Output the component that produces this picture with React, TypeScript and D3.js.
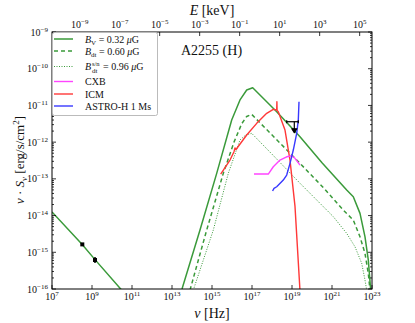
import React from "react";
import * as d3 from "d3";

const H_KEV = 4.135667e-18; // keV per Hz

// all values are log10(nu / Hz) and log10(nu S_nu / erg s^-1 cm^-2)
const radioNu = [7, 8.5, 9.15, 10.5];
const radioFlux = [-13.9, -14.78, -15.2, -16.04];

const bvNu = [13.5, 14.4, 15.235, 15.985, 16.4, 16.735, 17.035, 18.235, 19.4, 20.5, 21.735, 22.065, 22.4, 22.65, 22.815, 22.935];
const bvFlux = [-16.0, -14.395, -12.85, -11.398, -10.85, -10.58, -10.518, -11.172, -11.853, -12.56, -13.305, -13.488, -13.94, -14.578, -15.21, -16.03];

const bdtNu = [13.9, 14.735, 15.565, 16.1, 16.485, 16.735, 16.985, 18.2, 19.4, 20.5, 21.565, 22.065, 22.4, 22.65, 22.815, 22.9];
const bdtFlux = [-16.03, -14.395, -12.85, -12.0, -11.5, -11.3, -11.243, -11.915, -12.578, -13.2, -13.85, -14.123, -14.578, -15.03, -15.575, -16.03];

const bsnNu = [14.065, 15.065, 15.815, 16.4, 16.7, 16.985, 18.2, 19.4, 21.065, 21.735, 22.15, 22.485, 22.65, 22.735];
const bsnFlux = [-16.03, -14.395, -12.85, -11.94, -11.8, -11.76, -12.44, -13.12, -14.03, -14.485, -14.85, -15.3, -15.757, -16.03];

const icmNu = [15.435, 15.9, 16.1, 16.15, 16.2, 16.735, 17.235, 17.735, 18.065, 18.235, 18.245, 18.255, 18.315, 18.65, 18.9, 19.15, 19.4];
const icmFlux = [-12.869, -12.488, -12.26, -12.16, -12.2, -11.806, -11.488, -11.215, -11.106, -11.125, -10.9, -11.14, -11.172, -11.67, -12.488, -13.75, -16.05];

const cxbNu = [17.1, 17.815, 18.065, 18.4, 18.735, 18.985, 19.15, 19.4];
const cxbFlux = [-12.869, -12.869, -12.67, -12.488, -12.398, -12.371, -12.44, -12.624];

const astroNu = [18.03, 18.1, 18.235, 18.565, 18.735, 18.9, 19.065, 19.235, 19.315, 19.35];
const astroFlux = [-13.33, -13.26, -13.215, -13.033, -12.896, -12.578, -12.215, -11.76, -11.398, -10.9];

// radio data points with errors (dex)
const ptNu = [8.515, 9.15];
const ptFlux = [-14.785, -15.21];
const ptErr = [0.03, 0.08];

// hard X-ray upper limit
const ulNu = 19.115;
const ulLo = 18.735;
const ulHi = 19.315;
const ulFlux = -11.444;

const xTickExp = [7, 9, 11, 13, 15, 17, 19, 21, 23];
const eTickExp = [-9, -7, -5, -3, -1, 1, 3, 5];
const yTickExp = [-16, -15, -14, -13, -12, -11, -10, -9];

const GREEN = "#3a9a3a";
const RED = "#ff3838";
const MAGENTA = "#ff44ff";
const BLUE = "#3838ff";
const FONT = "'Liberation Serif', 'DejaVu Serif', serif";

const L = 52, R = 372, T = 32, B = 289;

function Pow({ x, y, exp, anchor }: { x: number; y: number; exp: number; anchor: string }) {
  const s = exp < 0 ? "\u2212" + -exp : String(exp);
  return (
    <text x={x} y={y} textAnchor={anchor} fontSize={10}>
      10<tspan dy={-4} fontSize={7}>{s}</tspan>
    </text>
  );
}

export default function App() {
  const x = d3.scaleLog().domain([1e7, 1e23]).range([L, R]);
  const y = d3.scaleLog().domain([1e-16, 1e-9]).range([B, T]);
  const xE = d3.scaleLog().domain([1e7 * H_KEV, 1e23 * H_KEV]).range([L, R]);

  const line = (nu: number[], f: number[]) =>
    d3
      .line<number>()
      .x((_, i) => x(Math.pow(10, nu[i])))
      .y((_, i) => y(Math.pow(10, f[i])))(nu) || "";

  const minor: number[] = [];
  for (let e = -16; e < -9; e++) for (let k = 2; k < 10; k++) minor.push(k * Math.pow(10, e));

  const rows = [39, 51, 66.5, 81.5, 94, 106];

  return (
    <svg width={415} height={323} style={{ position: "absolute", left: 0, top: 0 }} fontFamily={FONT}>
      <rect width={415} height={323} fill="#fff" />
      <defs>
        <clipPath id="plot">
          <rect x={L} y={T} width={R - L} height={B - T} />
        </clipPath>
      </defs>

      <g clipPath="url(#plot)" fill="none" strokeLinejoin="round">
        <path d={line(radioNu, radioFlux)} stroke={GREEN} strokeWidth={1.5} />
        <path d={line(bvNu, bvFlux)} stroke={GREEN} strokeWidth={1.5} />
        <path d={line(bdtNu, bdtFlux)} stroke={GREEN} strokeWidth={1.5} strokeDasharray="4,3" />
        <path d={line(bsnNu, bsnFlux)} stroke={GREEN} strokeWidth={1} strokeDasharray="1,1.5" />
        <path d={line(icmNu, icmFlux)} stroke={RED} strokeWidth={1.4} />
        <path d={line(cxbNu, cxbFlux)} stroke={MAGENTA} strokeWidth={1.4} />
        <path d={line(astroNu, astroFlux)} stroke={BLUE} strokeWidth={1.4} />

        {ptNu.map((n, i) => {
          const cx = x(Math.pow(10, n));
          const cy = y(Math.pow(10, ptFlux[i]));
          return (
            <g key={i}>
              <line
                x1={cx}
                x2={cx}
                y1={y(Math.pow(10, ptFlux[i] + ptErr[i]))}
                y2={y(Math.pow(10, ptFlux[i] - ptErr[i]))}
                stroke="#000"
                strokeWidth={1.5}
              />
              <rect x={cx - 2} y={cy - 2} width={4} height={4} fill="#000" />
            </g>
          );
        })}

        {(() => {
          const cx = x(Math.pow(10, ulNu));
          const cy = y(Math.pow(10, ulFlux));
          return (
            <g stroke="#000" strokeWidth={1.2}>
              <line x1={x(Math.pow(10, ulLo))} x2={x(Math.pow(10, ulHi))} y1={cy} y2={cy} />
              <line x1={x(Math.pow(10, ulLo))} x2={x(Math.pow(10, ulLo))} y1={cy - 1.5} y2={cy + 1.5} />
              <line x1={x(Math.pow(10, ulHi))} x2={x(Math.pow(10, ulHi))} y1={cy - 1.5} y2={cy + 1.5} />
              <line x1={cx} x2={cx} y1={cy} y2={cy + 9} />
              <path d={`M${cx - 2.5},${cy + 7} L${cx},${cy + 11} L${cx + 2.5},${cy + 7} Z`} fill="#000" />
            </g>
          );
        })()}
      </g>

      {/* frame and ticks */}
      <rect x={L} y={T} width={R - L} height={B - T} fill="none" stroke="#000" strokeWidth={1} />
      <g stroke="#000" strokeWidth={0.8}>
        {xTickExp.map((e) => {
          const px = x(Math.pow(10, e));
          return <line key={"b" + e} x1={px} x2={px} y1={B} y2={B - 4} />;
        })}
        {eTickExp.map((e) => {
          const px = xE(Math.pow(10, e));
          return <line key={"t" + e} x1={px} x2={px} y1={T} y2={T + 4} />;
        })}
        {yTickExp.map((e) => {
          const py = y(Math.pow(10, e));
          return (
            <g key={"y" + e}>
              <line x1={L} x2={L + 4} y1={py} y2={py} />
              <line x1={R} x2={R - 4} y1={py} y2={py} />
            </g>
          );
        })}
        {minor.map((v, i) => {
          const py = y(v);
          return (
            <g key={"m" + i}>
              <line x1={L} x2={L + 2} y1={py} y2={py} />
              <line x1={R} x2={R - 2} y1={py} y2={py} />
            </g>
          );
        })}
      </g>

      {/* tick labels */}
      <g fill="#111">
        {xTickExp.map((e) => (
          <Pow key={"xl" + e} x={x(Math.pow(10, e))} y={300} exp={e} anchor="middle" />
        ))}
        {eTickExp.map((e) => (
          <Pow key={"el" + e} x={xE(Math.pow(10, e))} y={27.5} exp={e} anchor="middle" />
        ))}
        {yTickExp.map((e) => (
          <Pow key={"yl" + e} x={48} y={y(Math.pow(10, e)) + 3.5} exp={e} anchor="end" />
        ))}
      </g>

      {/* axis titles */}
      <text x={212} y={318} textAnchor="middle" fontSize={14} fill="#111">
        <tspan fontStyle="italic">ν</tspan> [Hz]
      </text>
      <text x={212} y={14.5} textAnchor="middle" fontSize={14} fill="#111">
        <tspan fontStyle="italic">E</tspan> [keV]
      </text>
      <text transform="translate(24,160) rotate(-90)" textAnchor="middle" fontSize={13} fill="#111">
        <tspan fontStyle="italic">ν</tspan> · <tspan fontStyle="italic">S</tspan>
        <tspan fontStyle="italic" fontSize={9} dy={3}>ν</tspan>
        <tspan dy={-3}> [erg/s/cm</tspan>
        <tspan fontSize={9} dy={-5}>2</tspan>
        <tspan dy={5}>]</tspan>
      </text>

      <text x={181} y={55} fontSize={14} fill="#111">A2255 (H)</text>

      {/* legend */}
      <rect x={L + 0.5} y={T + 0.5} width={105} height={83} rx={2} fill="#fff" stroke="#bbb" strokeWidth={1} />
      <g fill="none">
        <line x1={54} x2={73} y1={rows[0]} y2={rows[0]} stroke={GREEN} strokeWidth={1.5} />
        <line x1={54} x2={73} y1={rows[1]} y2={rows[1]} stroke={GREEN} strokeWidth={1.5} strokeDasharray="4,3" />
        <line x1={54} x2={73} y1={rows[2]} y2={rows[2]} stroke={GREEN} strokeWidth={1} strokeDasharray="1,1.5" />
        <line x1={54} x2={73} y1={rows[3]} y2={rows[3]} stroke={MAGENTA} strokeWidth={1.4} />
        <line x1={54} x2={73} y1={rows[4]} y2={rows[4]} stroke={RED} strokeWidth={1.4} />
        <line x1={54} x2={73} y1={rows[5]} y2={rows[5]} stroke={BLUE} strokeWidth={1.4} />
      </g>
      <g fontSize={10} fill="#111">
        <text x={85} y={rows[0] + 3.5}>
          <tspan fontStyle="italic">B</tspan>
          <tspan fontSize={7} dy={2}>V</tspan>
          <tspan dy={-2}> = 0.32 </tspan>
          <tspan fontStyle="italic">μ</tspan>G
        </text>
        <text x={85} y={rows[1] + 3.5}>
          <tspan fontStyle="italic">B</tspan>
          <tspan fontSize={7} dy={2}>dt</tspan>
          <tspan dy={-2}> = 0.60 </tspan>
          <tspan fontStyle="italic">μ</tspan>G
        </text>
        <text x={85} y={rows[2] + 3.5}>
          <tspan fontStyle="italic">B</tspan>
        </text>
        <text x={92} y={rows[2] - 1} fontSize={6.5}>s/n</text>
        <text x={92} y={rows[2] + 6} fontSize={7}>dt</text>
        <text x={103} y={rows[2] + 3.5}>
          = 0.96 <tspan fontStyle="italic">μ</tspan>G
        </text>
        <text x={85} y={rows[3] + 3.5}>CXB</text>
        <text x={85} y={rows[4] + 3.5}>ICM</text>
        <text x={85} y={rows[5] + 3.5}>ASTRO-H 1 Ms</text>
      </g>
    </svg>
  );
}
